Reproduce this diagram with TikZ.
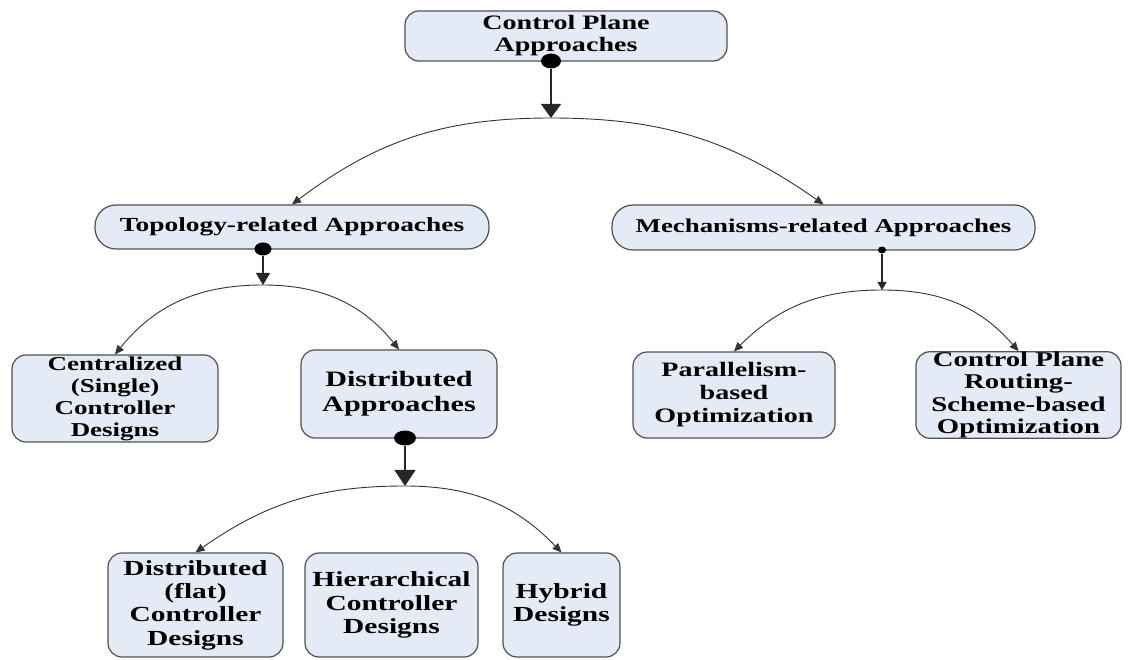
\documentclass[tikz,border=0pt]{standalone}
\usepackage{fontspec}
\setmainfont{Liberation Serif}[FakeStretch=1.37]
\usetikzlibrary{arrows.meta,shapes.geometric}
\definecolor{boxfill}{RGB}{229,235,246}
\definecolor{boxline}{RGB}{80,80,80}
\newcommand\txtsize[2]{\fontsize{#1}{#2}\selectfont\bfseries}

\begin{document}
\begin{tikzpicture}[x=1pt,y=1pt,
  box/.style={draw=boxline, fill=boxfill, line width=1.2pt, rounded corners=14pt,
              align=center, inner sep=0pt},
  pill/.style={box, rounded corners=21pt},
  knob/.style={ellipse, fill=black, inner sep=0pt},
  stem/.style={draw=black!85, line width=1.1pt},
  branch/.style={draw=black!80, line width=0.9pt, -{Triangle[length=9pt,width=8pt]}}
]
\useasboundingbox (0,0) rectangle (1135,659);

% ---- boxes ----
\node[box, minimum width=322pt, minimum height=50pt, font=\txtsize{20.5}{22}]
  (root) at (566,623) {Control Plane\\Approaches};

\node[pill, minimum width=394pt, minimum height=44pt, font=\txtsize{20}{22}]
  (topo) at (292,432) {Topology-related Approaches};
\node[pill, minimum width=423pt, minimum height=45pt, font=\txtsize{19.6}{22}]
  (mech) at (823.5,431.5) {Mechanisms-related Approaches};

\node[box, minimum width=206pt, minimum height=87pt, font=\txtsize{19.7}{22}]
  (cent) at (115,260.5) {Centralized\\(Single)\\Controller\\Designs};
\node[box, minimum width=196pt, minimum height=88pt, font=\txtsize{22}{25}]
  (dist) at (399,265) {Distributed\\Approaches};
\node[box, minimum width=202pt, minimum height=86pt, font=\txtsize{20.5}{23}]
  (para) at (734,264) {Parallelism-\\based\\Optimization};
\node[box, minimum width=205pt, minimum height=86pt, font=\txtsize{21}{22.5}]
  (cprs) at (1018.5,264) {Control Plane\\Routing-\\Scheme-based\\Optimization};

\node[box, minimum width=175pt, minimum height=104pt, font=\txtsize{21.5}{23.3}]
  (dflat) at (195.5,54) {Distributed\\(flat)\\Controller\\Designs};
\node[box, minimum width=173pt, minimum height=104pt, font=\txtsize{21.5}{23.3}]
  (hier) at (391.5,54) {Hierarchical\\Controller\\Designs};
\node[box, minimum width=117pt, minimum height=104pt, font=\txtsize{21.5}{23.3}]
  (hyb) at (561.5,54) {Hybrid\\Designs};

% ---- junction dots and fork points ----
\node[knob, minimum width=20pt, minimum height=15pt] (rootdot) at (551,598) {};
\node[knob, minimum width=17pt, minimum height=13pt] (topodot) at (263,410) {};
\node[knob, minimum width=22pt, minimum height=15pt] (distdot) at (405,221) {};
\node[knob, minimum width=8pt, minimum height=7pt]   (mechdot) at (882,409) {};

\coordinate (rootfork) at (551,541);
\coordinate (topofork) at (263,374);
\coordinate (distfork) at (405,173);
\coordinate (mechfork) at (882,369);

% ---- stems ----
\draw[stem, -{Triangle[length=14pt,width=20pt]}] (rootdot) -- (rootfork);
\draw[stem, -{Triangle[length=12pt,width=14pt]}] (topodot) -- (topofork);
\draw[stem, -{Triangle[length=16pt,width=21pt]}] (distdot) -- (distfork);
\draw[stem, -{Triangle[length=8pt,width=9pt]}]   (mechdot) -- (mechfork);

% ---- branches ----
\draw[branch] (rootfork) to[out=180,in=37]  (topo.north);
\draw[branch] (rootfork) to[out=0,in=145]   (mech.north);
\draw[branch] (topofork) to[out=180,in=51]  (cent.north);
\draw[branch] (topofork) to[out=0,in=129]   (dist.north);
\draw[branch] (distfork) to[out=180,in=35]  (dflat.north);
\draw[branch] (distfork) to[out=0,in=134]   (hyb.north);
\draw[branch] (mechfork) to[out=180,in=45]  (para.north);
\draw[branch] (mechfork) to[out=0,in=131]   (cprs.north);
\end{tikzpicture}
\end{document}
